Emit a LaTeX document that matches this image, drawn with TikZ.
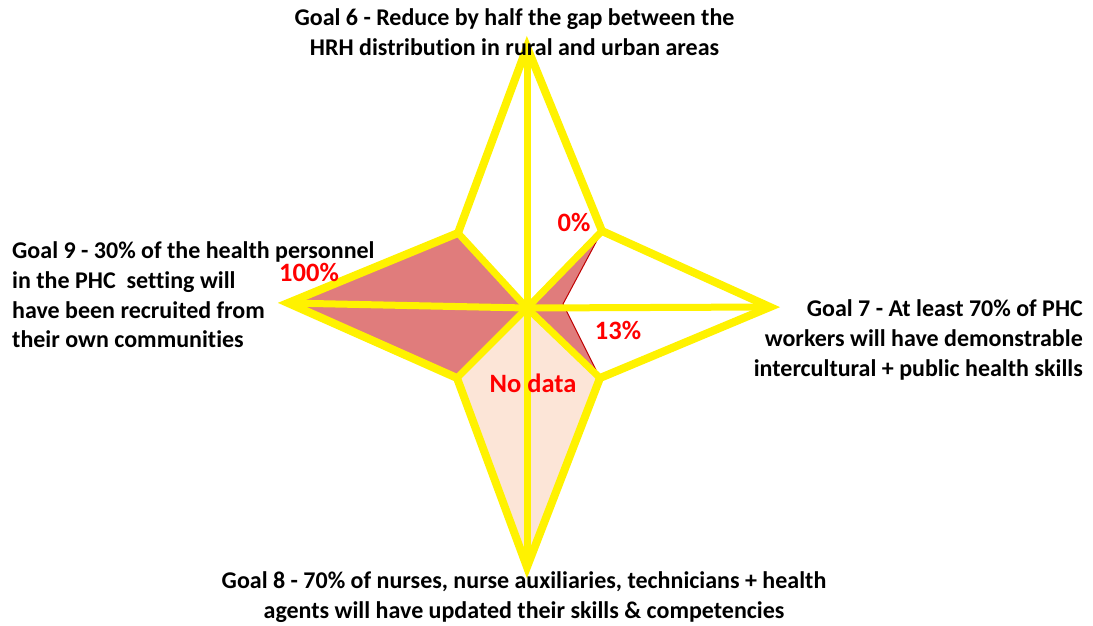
\documentclass[tikz,border=0pt]{standalone}
\usepackage{fontspec}
\setmainfont{Carlito}[Ligatures=NoCommon]
\begin{document}
\begin{tikzpicture}[x=1pt,y=-1pt,
  goal/.style={font=\fontsize{24}{29.6}\selectfont\bfseries, text=black, inner sep=0pt},
  pct/.style={font=\fontsize{26.5}{29}\selectfont\bfseries, text=red, inner sep=0pt},
  ylw/.style={draw=yellow, line width=8pt},
  spoke/.style={draw=yellow, line width=7pt}]
\definecolor{redfill}{RGB}{224,124,124}
\definecolor{redline}{RGB}{192,0,0}
\definecolor{peach}{RGB}{252,229,215}
\useasboundingbox (0,0) rectangle (1093,625);
\coordinate (C) at (527,308);
\coordinate (T) at (527,47);
\coordinate (UR) at (602,231);
\coordinate (R) at (770,307);
\coordinate (LR) at (600,378);
\coordinate (B) at (527,567);
\coordinate (LL) at (457,378);
\coordinate (L) at (288,303);
\coordinate (UL) at (458,233);
\coordinate (R13) at (563,304);
% no data area
\fill[peach] (LL) -- (B) -- (LR) -- (C) -- cycle;
% data polygon
\filldraw[fill=redfill, draw=redline, line width=1pt, line join=round]
  (C) -- (UL) -- (L) -- (LL) -- (C) -- (LR) -- (R13) -- (UR) -- cycle;
% spokes
\foreach \p in {T,UR,R,LR,B,LL,L,UL} \draw[spoke] (C) -- (\p);
% outer star
\draw[ylw, line join=miter, miter limit=20] (T) -- (UR) -- (R) -- (LR) -- (B) -- (LL) -- (L) -- (UL) -- cycle;
% labels
\node[goal, align=center] (g6) at (514.5,32) {Goal 6 - Reduce by half the gap between the\\HRH distribution in rural and urban areas};
\node[goal, align=right, anchor=east] (g7) at (1083,340) {Goal 7 - At least 70\% of PHC\\workers will have demonstrable\\intercultural + public health skills};
\node[goal, align=center] (g8) at (524,597) {Goal 8 - 70\% of nurses, nurse auxiliaries, technicians + health\\agents will have updated their skills \& competencies};
\node[goal, align=left, anchor=west] (g9) at (12,295) {Goal 9 - 30\% of the health personnel\\in the PHC~ setting will\\have been recruited from\\their own communities};
\node[pct] (p6) at (574,222) {0\%};
\node[pct] (p9) at (309,272) {100\%};
\node[pct] (p7) at (618,330) {13\%};
\node[pct] (p8) at (533,383) {No data};
\end{tikzpicture}
\end{document}
